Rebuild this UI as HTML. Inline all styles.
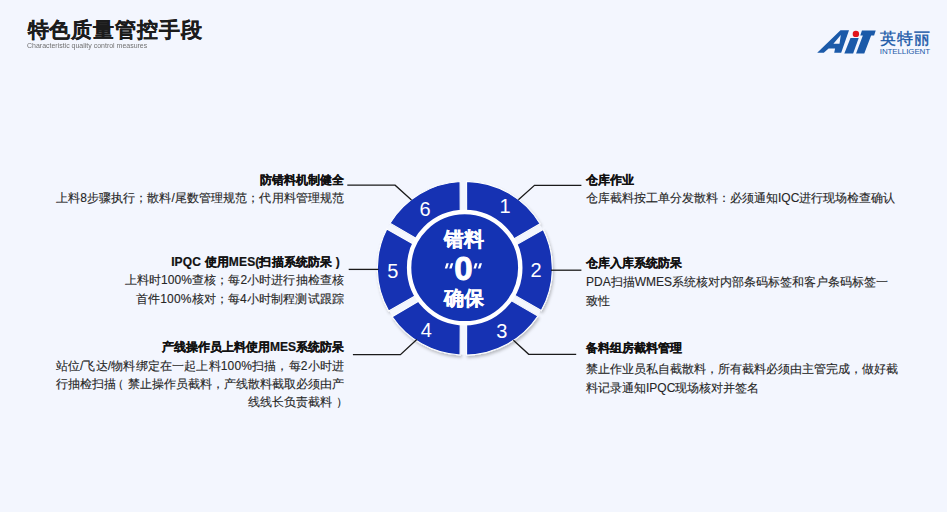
<!DOCTYPE html>
<html><head><meta charset="utf-8">
<style>
html,body{margin:0;padding:0;}
body{width:947px;height:512px;overflow:hidden;background:#f3f6fe;position:relative;font-family:"Liberation Sans",sans-serif;}
.a{position:absolute;white-space:nowrap;line-height:1;}
.h1{left:27.5px;top:18.9px;font-size:21px;letter-spacing:0.95px;font-weight:bold;color:#1c1c1c;-webkit-text-stroke:0.2px #1c1c1c;}
.sub{left:27px;top:41.7px;font-size:7.8px;color:#707070;letter-spacing:0px;transform:scaleX(0.895);transform-origin:0 0;}
.t{font-size:12px;font-weight:bold;color:#111;-webkit-text-stroke:0.2px #111;}
.d{font-size:12px;color:#262626;-webkit-text-stroke:0.12px #262626;}
.r{text-align:right;}
.rl{right:603px;}
.ll{left:586px;}
.pl{position:relative;left:-4px;}
.pr{position:relative;left:4px;}
svg{position:absolute;left:0;top:0;}
.c{font-weight:bold;color:#fff;-webkit-text-stroke:0.3px #fff;}
</style></head><body>
<div class="a h1">特色质量管控手段</div>
<div class="a sub">Characteristic quality control measures</div>

<svg width="947" height="512" viewBox="0 0 947 512">
  <defs>
    <filter id="sh" x="-20%" y="-20%" width="140%" height="140%">
      <feDropShadow dx="1.2" dy="2.2" stdDeviation="1.6" flood-color="#000" flood-opacity="0.24"/>
    </filter>
  </defs>
  <g fill="#1b5aa9">
    <path d="M817.2,52.8 L840.5,30.3 L849,30.3 L841.2,52.8 L834.2,52.8 L835.1,48.4 L828.6,48.4 L823.8,52.8 Z M833.4,43.8 L839.5,43.8 L840.8,35.1 Z" fill-rule="evenodd"/>
    <path d="M850.50,38.02 L858.71,38.02 L853.14,53.43 L844.34,53.43 Z"/>
    <path d="M861.93,30.57 L875.70,30.57 L874.12,35.55 L871.13,35.55 L864.27,53.43 L856.07,53.43 L862.87,35.55 L860.29,35.55 Z"/>
  </g>
  <circle cx="855.9" cy="33.9" r="3.2" fill="#e1141c"/>

  <g filter="url(#sh)" fill="#1433b3" stroke="#fff" stroke-width="1.1">
<path d="M466.57,181.37 A87.50,86.90 0 0 1 540.05,223.82 L511.57,240.18 A54.50,54.50 0 0 0 466.63,213.78 Z"/>
<path d="M543.16,229.48 A87.50,86.90 0 0 1 541.29,310.55 L512.80,294.15 A54.50,54.50 0 0 0 514.54,245.87 Z"/>
<path d="M537.92,316.06 A87.50,86.90 0 0 1 466.57,355.13 L466.63,322.72 A54.50,54.50 0 0 0 509.43,299.61 Z"/>
<path d="M460.08,355.02 A87.50,86.90 0 0 1 392.20,316.69 L420.62,300.09 A54.50,54.50 0 0 0 460.22,322.55 Z"/>
<path d="M388.69,311.04 A87.50,86.90 0 0 1 386.80,228.97 L415.41,245.33 A54.50,54.50 0 0 0 417.18,294.67 Z"/>
<path d="M390.05,223.17 A87.50,86.90 0 0 1 460.08,181.48 L460.22,213.95 A54.50,54.50 0 0 0 418.44,239.67 Z"/>
  </g>
  <clipPath id="cp"><ellipse cx="464.85" cy="268.25" rx="87.2" ry="86.6"/></clipPath>
  <g clip-path="url(#cp)" stroke="#f3f6fe" stroke-width="5.2">
    <line x1="463.4" y1="170" x2="463.4" y2="370"/>
    <line x1="377.9" y1="321.1" x2="551.1" y2="221.1"/>
    <line x1="377.9" y1="220.0" x2="551.1" y2="320.0"/>
  </g>
  <circle cx="464.7" cy="267.65" r="55.6" fill="#1433b3" stroke="#fff" stroke-width="4.4"/>

  <g stroke="#1a1a1a" stroke-width="1.3" fill="none">
    <polyline points="518.4,199.8 534.5,185.3 581.4,185.3"/>
    <polyline points="551,270.2 581.4,270.2"/>
    <polyline points="513.4,340.2 528.7,354.3 576.2,354.3"/>
    <polyline points="347.3,185.2 395.1,185.2 411.5,199.9"/>
    <polyline points="348.7,269.4 378.5,269.4"/>
    <polyline points="352.9,354.7 400.4,354.7 416.8,339.5"/>
  </g>

  <g fill="#fff" font-family="Liberation Sans" font-size="20" text-anchor="middle">
    <text x="505" y="213.4">1</text>
    <text x="536" y="276.7">2</text>
    <text x="501.7" y="337.7">3</text>
    <text x="426.3" y="336.9">4</text>
    <text x="392.7" y="277.7">5</text>
    <text x="425" y="216">6</text>
  </g>
  <g fill="#fff">
    <path d="M444.8,268.5 L447.2,268.5 L448.8,263.3 L446.4,263.3 Z M449.2,268.5 L451.6,268.5 L453.3,263.3 L450.9,263.3 Z"/>
    <path d="M473.5,268.5 L475.9,268.5 L477.5,263.3 L475.1,263.3 Z M477.9,268.5 L480.3,268.5 L482,263.3 L479.6,263.3 Z"/>
  </g>
</svg>

<div class="a" style="left:880px;top:30.5px;font-size:16px;color:#1b5aa9;letter-spacing:1px;-webkit-text-stroke:0.35px #1b5aa9;">英特丽</div>
<div class="a" style="left:879.8px;top:48.3px;font-size:8px;color:#1b5aa9;letter-spacing:-0.12px;">INTELLIGENT</div>

<div class="a c" style="left:443.5px;top:229px;font-size:20px;">错料</div>
<div class="a c" style="left:454.2px;top:251.8px;font-size:33px;-webkit-text-stroke:0.9px #fff;">0</div>
<div class="a c" style="left:443.5px;top:288px;font-size:20px;">确保</div>

<div class="a t ll" style="top:174px;">仓库作业</div>
<div class="a d ll" style="top:191.5px;">仓库截料按工单分发散料：必须通知IQC进行现场检查确认</div>

<div class="a t ll" style="top:256.5px;">仓库入库系统防呆</div>
<div class="a d ll" style="top:275.5px;">PDA扫描WMES系统核对内部条码标签和客户条码标签一</div>
<div class="a d ll" style="top:294.7px;">致性</div>

<div class="a t ll" style="top:342px;">备料组房截料管理</div>
<div class="a d ll" style="top:362.7px;">禁止作业员私自截散料，所有截料必须由主管完成，做好截</div>
<div class="a d ll" style="top:381.7px;">料记录通知IPQC现场核对并签名</div>

<div class="a t rl r" style="top:173.5px;">防错料机制健全</div>
<div class="a d rl r" style="top:192px;letter-spacing:0.08px;">上料8步骤执行；散料/尾数管理规范；代用料管理规范</div>

<div class="a t rl r" style="top:256px;padding-right:4px;letter-spacing:0.15px;">IPQC 使用MES(扫描系统防呆 )</div>
<div class="a d rl r" style="top:274px;letter-spacing:0.1px;">上料时100%查核；每2小时进行抽检查核</div>
<div class="a d rl r" style="top:292.7px;letter-spacing:0.14px;">首件100%核对；每4小时制程测试跟踪</div>

<div class="a t rl r" style="top:341px;">产线操作员上料使用MES系统防呆</div>
<div class="a d rl r" style="top:359.5px;letter-spacing:0.16px;">站位/飞达/物料绑定在一起上料100%扫描，每2小时进</div>
<div class="a d rl r" style="top:377.5px;">行抽检扫描<span class="pl">（</span>禁止操作员截料，产线散料截取必须由产</div>
<div class="a d rl r" style="top:396.2px;">线线长负责截料<span class="pr">）</span></div>
</body></html>
